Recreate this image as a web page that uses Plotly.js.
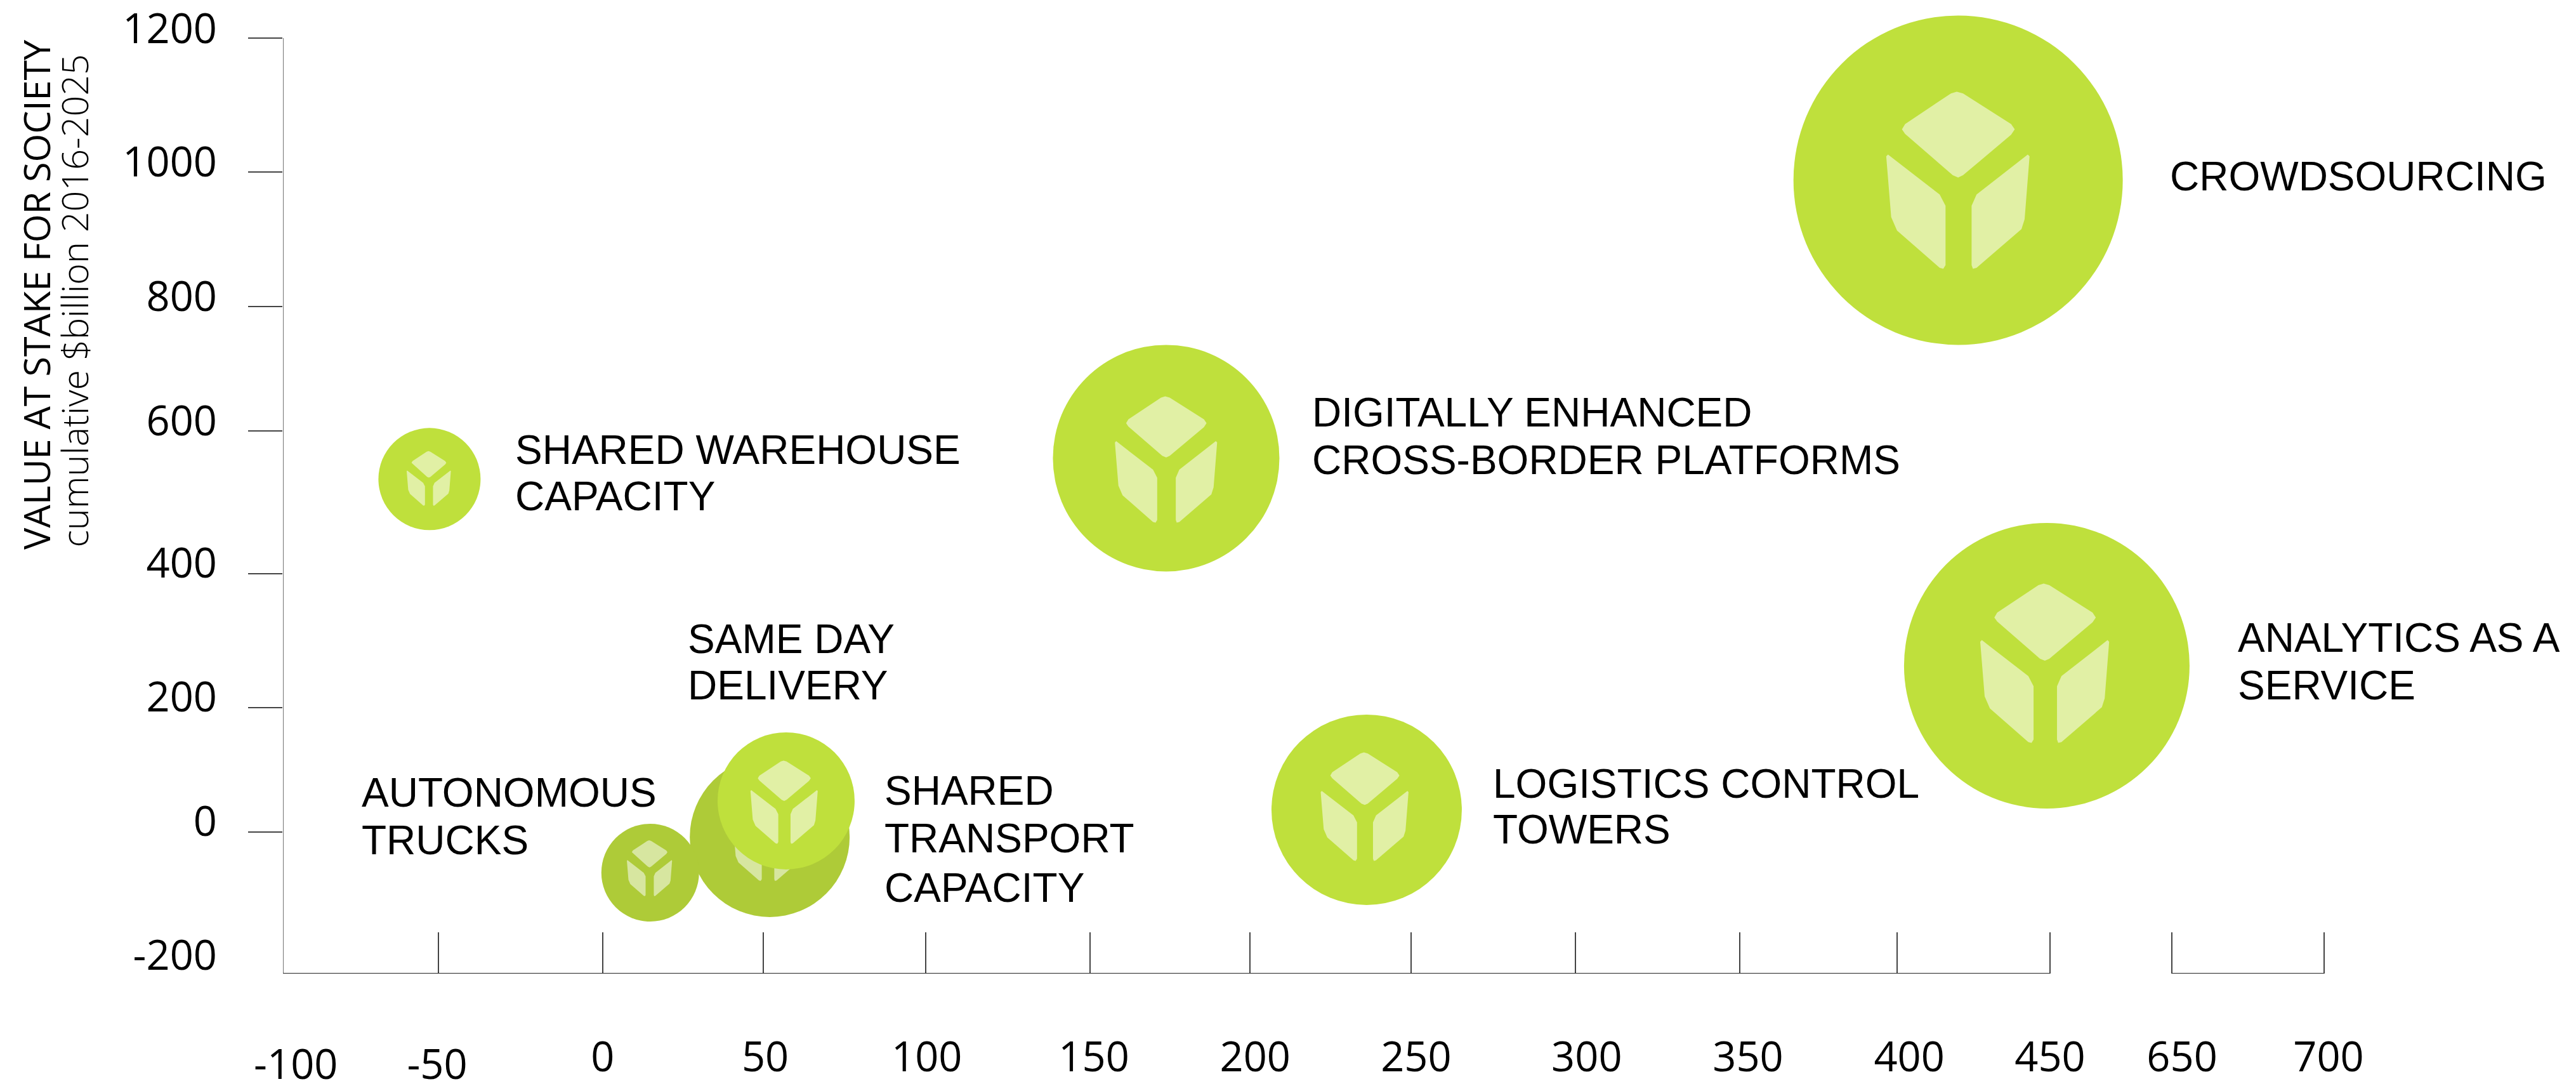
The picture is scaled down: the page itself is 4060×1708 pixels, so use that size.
<!DOCTYPE html>
<html>
<head>
<meta charset="utf-8">
<script src="https://cdn.plot.ly/plotly-3.0.1.min.js"></script>
<style>html,body{margin:0;padding:0;background:#fff}</style>
</head>
<body>
<div id="chart" style="width:4060px;height:1708px"></div>
<script>
// ---- Data ----
const names   = ["SHARED WAREHOUSE CAPACITY","DIGITALLY ENHANCED CROSS-BORDER PLATFORMS","CROWDSOURCING","ANALYTICS AS A SERVICE","LOGISTICS CONTROL TOWERS","SHARED TRANSPORT CAPACITY","AUTONOMOUS TRUCKS","SAME DAY DELIVERY"];
const xValues = [-54.4, 174.9, 421.4, 449, 237.3, 51.5, 14.3, 56.6];
const yValues = [540, 571.3, 987.3, 260.7, 45.1, 4.3, -49, 58.4];
const sizes   = [161, 357, 519, 450, 300, 252, 154, 216];

// Axis ticks (the source axis is hand-spaced and broken between 450 and 650)
const xTickLabels = ["-100","-50","0","50","100","150","200","250","300","350","400","450","650","700"];
const xTickMarks  = [-51.6,-0.5,49.5,100.1,151.2,201,251.1,302.3,353.4,402.4,450,487.9,535.3];
const xLabelSpots = [-96,-52,-0.5,50.1,100.4,152.4,202.6,252.7,305.8,356,406.2,450,491.1,536.7];
const yTickLabels = ["1200","1000","800","600","400","200","0","-200"];
const yTickMarks  = [1200,999.6,798.3,612.1,398.7,198.3,11.9];
const yLabelSpots = [1214.2,1014.8,813.4,627.3,414.5,214.2,28,-172.6];
const xSegments   = [[-100,450],[487.9,535.3]];

// ---- Style / layout ----
const W=4060,H=1708,L=446,B=1534;
const PXX=5.0636,PXY=1.0529;
const xRange=[-100,-100+(W-L)/PXX], yRange=[-200,-200+B/PXY];
const BRIGHT="#BFE03C",DARK="#AECB38",LIGHT="#E1F0A5",LIGHT2="#D7E6A0";
const fills=[BRIGHT,BRIGHT,BRIGHT,BRIGHT,BRIGHT,DARK,DARK,BRIGHT];
const iconFills=[LIGHT,LIGHT,LIGHT,LIGHT,LIGHT,LIGHT2,LIGHT2,LIGHT];
const iconHeights=[86,199,279,251,171,134,88,131];
const iconDx=[-1,0,0,-3,-3,-3,-1,-3];
const iconDy=[-1,2,0,-4,-5,2,-7,2];
// glyph outlines, unit = 394 -> full icon height
const glyph=[
 [[-16,-193],[-3,-197],[11,-193],[118,-125],[126,-113],[118,-101],[11,-11],[0,-6],[-12,-11],[-118,-103],[-125,-113],[-118,-125]],
 [[155,-57],[159,-53],[148,87],[141,109],[41,195],[33,197],[30,189],[30,57],[41,32]],
 [[-156,-57],[-160,-53],[-149,82],[-136,112],[-41,195],[-33,197],[-28,189],[-28,57],[-41,32]]
];

const LABEL_FONT="'Liberation Sans',Arial,sans-serif", NUM_FONT="'Open Sans',sans-serif";
// each printed line: text, left px, centre px
const labelLines=[
 ["CROWDSOURCING",3419,278],
 ["DIGITALLY ENHANCED",2067,650],["CROSS-BORDER PLATFORMS",2067,725],
 ["SHARED WAREHOUSE",811,709],["CAPACITY",811,782],
 ["SAME DAY",1083,1007],["DELIVERY",1083,1080],
 ["AUTONOMOUS",569,1249],["TRUCKS",569,1324],
 ["SHARED",1393,1246],["TRANSPORT",1393,1321],["CAPACITY",1393,1399],
 ["LOGISTICS CONTROL",2352,1235],["TOWERS",2352,1307],
 ["ANALYTICS AS A",3526,1005],["SERVICE",3526,1080]
];

const traces=[];
names.forEach((n,i)=>{
  traces.push({type:"scatter",mode:"markers",name:n,x:[xValues[i]],y:[yValues[i]],cliponaxis:false,
    marker:{size:sizes[i],color:fills[i],line:{width:0},opacity:1},hoverinfo:"name",showlegend:false});
  const k=iconHeights[i]/394, gx=[],gy=[];
  glyph.forEach(poly=>{
    poly.concat([poly[0]]).forEach(p=>{
      gx.push(xValues[i]+(p[0]*k+iconDx[i])/PXX);
      gy.push(yValues[i]-(p[1]*k+iconDy[i])/PXY);
    });
    gx.push(null);gy.push(null);
  });
  traces.push({type:"scatter",mode:"lines",x:gx,y:gy,fill:"toself",fillcolor:iconFills[i],connectgaps:false,
    line:{width:0,color:iconFills[i]},hoverinfo:"skip",showlegend:false});
});
// carriers for the label axes
traces.push({type:"scatter",mode:"markers",xaxis:"x2",yaxis:"y",x:xLabelSpots.slice(2),y:xLabelSpots.slice(2).map(()=>0),marker:{opacity:0},hoverinfo:"skip",showlegend:false});
traces.push({type:"scatter",mode:"markers",xaxis:"x3",yaxis:"y",x:xLabelSpots.slice(0,2),y:[0,0],marker:{opacity:0},hoverinfo:"skip",showlegend:false});
traces.push({type:"scatter",mode:"markers",xaxis:"x",yaxis:"y2",x:[0],y:[0],marker:{opacity:0},hoverinfo:"skip",showlegend:false});

const tickFont={family:NUM_FONT,size:65,color:"#000"};
const clear="rgba(0,0,0,0)";
const base={showgrid:false,zeroline:false,showline:false,fixedrange:true};
const layout={
  width:W,height:H,autosize:false,showlegend:false,hovermode:"closest",
  paper_bgcolor:"#fff",plot_bgcolor:"#fff",
  margin:{l:L,r:0,t:0,b:H-B,pad:0},
  xaxis:{...base,range:xRange,tickmode:"array",tickvals:xTickMarks,ticktext:xTickMarks.map(()=>""),ticks:"inside",ticklen:65,tickwidth:1.5,tickcolor:"#444",showticklabels:false},
  xaxis2:{...base,range:xRange,overlaying:"x",anchor:"y",side:"bottom",tickmode:"array",tickvals:xLabelSpots.slice(2),ticktext:xTickLabels.slice(2),ticks:"outside",ticklen:75,tickcolor:clear,tickfont:tickFont,tickangle:0,ticklabeloverflow:"allow"},
  xaxis3:{...base,range:xRange,overlaying:"x",anchor:"y",side:"bottom",tickmode:"array",tickvals:xLabelSpots.slice(0,2),ticktext:xTickLabels.slice(0,2),ticks:"outside",ticklen:87,tickcolor:clear,tickfont:tickFont,tickangle:0,ticklabeloverflow:"allow"},
  yaxis:{...base,range:yRange,tickmode:"array",tickvals:yTickMarks,ticktext:yTickMarks.map(()=>""),ticks:"outside",ticklen:54,tickwidth:1.5,tickcolor:"#444",showticklabels:false},
  yaxis2:{...base,range:yRange,overlaying:"y",anchor:"x",side:"left",tickmode:"array",tickvals:yLabelSpots,ticktext:yTickLabels,ticks:"outside",ticklen:90,tickcolor:clear,tickfont:tickFont,ticklabeloverflow:"allow"},
  shapes:[
    {type:"line",xref:"x",yref:"y",x0:-100,x1:-100,y0:-200,y1:1200,line:{color:"#444",width:1.5}},
    ...xSegments.map(s=>({type:"line",xref:"x",yref:"y",x0:s[0],x1:s[1],y0:-200,y1:-200,line:{color:"#222",width:2}}))
  ],
  annotations:[
    ...labelLines.map(l=>({xref:"paper",yref:"paper",x:(l[1]-L)/(W-L),y:1-l[2]/B,xanchor:"left",yanchor:"middle",showarrow:false,
      text:l[0],align:"left",font:{family:LABEL_FONT,size:64,color:"#000"},borderpad:0})),
    {xref:"paper",yref:"paper",x:(57-L)/(W-L),y:1-867/B,xanchor:"center",yanchor:"bottom",textangle:-90,showarrow:false,borderpad:0,
      text:"VALUE AT STAKE FOR SOCIETY",font:{family:NUM_FONT,size:57.5,color:"#000"}},
    {xref:"paper",yref:"paper",x:(116-L)/(W-L),y:1-864/B,xanchor:"center",yanchor:"bottom",textangle:-90,showarrow:false,borderpad:0,
      text:"cumulative $billion 2016-2025",font:{family:NUM_FONT,size:57.5,weight:300,color:"#000"}}
  ]
};
Plotly.newPlot("chart",traces,layout,{displayModeBar:false,staticPlot:false});
</script>
</body>
</html>
